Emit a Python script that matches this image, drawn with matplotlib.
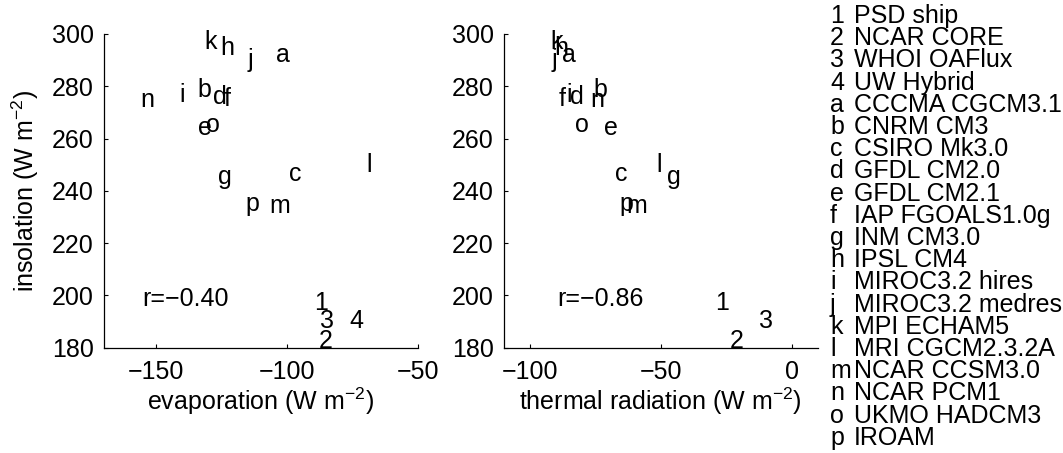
import numpy as np
import matplotlib
matplotlib.use("Agg")
import matplotlib.pyplot as plt

plt.rcParams['font.family'] = ['Liberation Sans', 'DejaVu Sans']
plt.rcParams['mathtext.default'] = 'regular'

# products / models, label letter and name
labels = ['1', '2', '3', '4', 'a', 'b', 'c', 'd', 'e', 'f', 'g', 'h',
          'i', 'j', 'k', 'l', 'm', 'n', 'o', 'p']
names = ['PSD ship', 'NCAR CORE', 'WHOI OAFlux', 'UW Hybrid', 'CCCMA CGCM3.1',
         'CNRM CM3', 'CSIRO Mk3.0', 'GFDL CM2.0', 'GFDL CM2.1', 'IAP FGOALS1.0g',
         'INM CM3.0', 'IPSL CM4', 'MIROC3.2 hires', 'MIROC3.2 medres',
         'MPI ECHAM5', 'MRI CGCM2.3.2A', 'NCAR CCSM3.0', 'NCAR PCM1',
         'UKMO HADCM3', 'IROAM']

# W m-2
insolation = [197.0, 182.5, 190.2, 190.2, 292.0, 278.5, 246.3, 275.8, 264.2, 275.0,
              245.2, 294.5, 276.8, 290.2, 297.0, 250.0, 234.2, 274.8, 265.1, 235.0]
evaporation = [-89.7, -87.7, -87.3, -76.1, -104.2, -134.2, -99.1, -128.1, -133.9, -124.0,
               -126.2, -125.3, -141.2, -115.2, -131.7, -69.5, -106.7, -155.9, -131.0, -115.7]
thermal = [-29.1, -23.7, -12.3, np.nan, -87.8, -75.6, -67.5, -84.7, -71.7, -89.1,
           -47.7, -90.8, -85.9, -91.7, -92.3, -51.8, -63.0, -77.0, -82.8, -65.8]

r_evap = -0.40
r_therm = -0.86

W, H = 1063, 453
fig = plt.figure(figsize=(W / 100, H / 100), dpi=100)
fs = 18

def panel(left, xvals, xlim, xticks, r, r_pos, xlabel):
    ax = fig.add_axes([left / W, 1 - 347.7 / H, 314 / W, 313.7 / H])
    for lab, xv, yv in zip(labels, xvals, insolation):
        if np.isnan(xv):
            continue
        ax.text(xv, yv, lab, ha='left', va='center', fontsize=fs)
    ax.text(r_pos[0], r_pos[1], 'r=\u2212%.2f' % abs(r), ha='left', va='center', fontsize=fs)
    ax.set_xlim(xlim)
    ax.set_ylim(180, 300)
    ax.set_xticks(xticks)
    ax.set_yticks(np.arange(180, 301, 20))
    ax.set_xticklabels(['\u2212%d' % abs(t) if t < 0 else '%d' % t for t in xticks])
    for s in ['top', 'right']:
        ax.spines[s].set_visible(False)
    for s in ['left', 'bottom']:
        ax.spines[s].set_linewidth(0.9)
    ax.tick_params(direction='in', length=3, width=0.8, labelsize=fs)
    ax.tick_params(axis='x', pad=9)
    ax.tick_params(axis='y', pad=7)
    fig.text((left + 157) / W, 1 - 410 / H, xlabel, ha='center', va='baseline', fontsize=fs)
    return ax

ax1 = panel(103.7, evaporation, (-170, -50), [-150, -100, -50], r_evap, (-155.3, 198.8),
            'evaporation (W m$^{-2}$)')
ax2 = panel(503.7, thermal, (-110, 10), [-100, -50, 0], r_therm, (-89.6, 198.8),
            'thermal radiation (W m$^{-2}$)')

fig.text(25 / W, 1 - 190.9 / H, 'insolation (W m$^{-2}$)', rotation=90,
         ha='center', va='center', fontsize=fs)

# key to the letters
for k, (lab, nm) in enumerate(zip(labels, names)):
    yb = 1 - (23 + k * 22.2) / H
    fig.text(830 / W, yb, lab, ha='left', va='baseline', fontsize=fs)
    fig.text(854 / W, yb, nm, ha='left', va='baseline', fontsize=fs)

fig.savefig('out.png', dpi=100)
